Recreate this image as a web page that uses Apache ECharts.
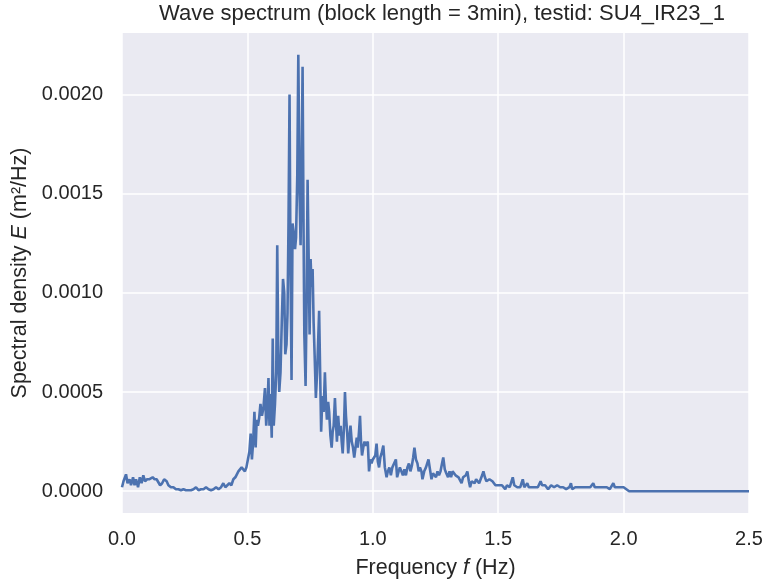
<!DOCTYPE html>
<html>
<head>
<meta charset="utf-8">
<script src="https://cdn.jsdelivr.net/npm/echarts@6/dist/echarts.min.js"></script>
<style>html,body{margin:0;padding:0;background:#fff}#c{width:767px;height:580px}</style>
</head>
<body>
<div id="c"></div>
<script>
const titleText = 'Wave spectrum (block length = 3min), testid: SU4_IR23_1';
const xTicks = [0, 0.5, 1.0, 1.5, 2.0, 2.5];
const yTicks = [0, 0.0005, 0.0010, 0.0015, 0.0020];
const freq = [
0.000,0.006,0.016,0.022,0.030,0.036,0.044,0.050,0.056,0.064,0.071,0.078,0.085,0.092,0.100,0.108,0.115,0.122,0.130,0.138,
0.145,0.152,0.160,0.168,0.178,0.185,0.195,0.205,0.215,0.225,0.235,0.245,0.255,0.265,0.275,0.285,0.295,0.305,0.315,0.325,
0.335,0.345,0.355,0.365,0.375,0.385,0.395,0.404,0.412,0.420,0.428,0.436,0.444,0.452,0.458,0.464,0.470,0.477,0.484,0.490,
0.496,0.502,0.508,0.513,0.518,0.523,0.528,0.533,0.537,0.542,0.547,0.552,0.558,0.564,0.570,0.575,0.580,0.584,0.588,0.592,
0.597,0.601,0.605,0.610,0.615,0.619,0.623,0.627,0.632,0.637,0.642,0.647,0.651,0.656,0.660,0.664,0.668,0.672,0.676,0.680,
0.685,0.690,0.694,0.699,0.703,0.708,0.712,0.716,0.720,0.724,0.727,0.732,0.736,0.740,0.744,0.748,0.752,0.756,0.760,0.764,
0.768,0.773,0.778,0.782,0.786,0.790,0.794,0.799,0.804,0.809,0.813,0.817,0.822,0.826,0.831,0.836,0.840,0.844,0.849,0.853,
0.857,0.862,0.867,0.872,0.876,0.880,0.885,0.889,0.893,0.898,0.902,0.906,0.911,0.916,0.921,0.926,0.931,0.936,0.940,0.945,
0.949,0.953,0.957,0.962,0.967,0.972,0.976,0.980,0.985,0.990,0.995,1.000,1.005,1.010,1.015,1.020,1.025,1.030,1.035,1.042,
1.048,1.055,1.060,1.066,1.072,1.078,1.084,1.092,1.097,1.103,1.108,1.114,1.120,1.126,1.132,1.138,1.144,1.150,1.156,1.161,
1.166,1.172,1.178,1.183,1.188,1.194,1.198,1.205,1.212,1.222,1.228,1.234,1.240,1.246,1.252,1.258,1.264,1.270,1.276,1.281,
1.287,1.293,1.300,1.306,1.312,1.318,1.324,1.330,1.336,1.342,1.348,1.354,1.360,1.366,1.371,1.377,1.383,1.388,1.394,1.400,
1.406,1.412,1.418,1.424,1.430,1.436,1.441,1.447,1.453,1.459,1.465,1.471,1.477,1.483,1.489,1.495,1.501,1.508,1.515,1.522,
1.528,1.535,1.540,1.546,1.552,1.558,1.564,1.570,1.576,1.582,1.588,1.593,1.598,1.604,1.610,1.616,1.622,1.628,1.634,1.640,
1.646,1.652,1.658,1.664,1.669,1.675,1.681,1.687,1.693,1.699,1.705,1.711,1.717,1.723,1.729,1.735,1.741,1.747,1.753,1.759,
1.765,1.771,1.777,1.784,1.790,1.795,1.801,1.807,1.813,1.819,1.825,1.831,1.837,1.843,1.849,1.855,1.861,1.867,1.873,1.879,
1.885,1.891,1.897,1.903,1.909,1.915,1.921,1.927,1.933,1.939,1.945,1.951,1.959,1.965,1.971,1.977,1.983,1.989,1.995,2.000,
2.005,2.011,2.016,2.022,2.100,2.200,2.300,2.400,2.500
];
const density = [
0.00002,0.00005,0.000085,0.00004,0.00006,0.00003,0.00007,0.00003,0.00006,0.00002,0.00007,0.00004,0.00008,0.00005,0.00006,0.00006,0.00007,0.00007,0.00006,0.00006,
0.00005,0.00003,0.00004,0.00006,0.00005,0.00003,0.00002,0.00002,0.00001,0.00001,0.000005,0.00001,0.000005,0.000005,0.000005,0.00001,0.00002,0.000005,0.00001,0.00001,
0.00002,0.00001,0.000005,0.00001,0.00002,0.00001,0.00002,0.00004,0.00002,0.00003,0.00004,0.00003,0.00006,0.00007,0.00006,0.0001,0.0001,0.00012,0.00012,0.0001,
0.00012,0.00016,0.0002,0.00029,0.00016,0.00025,0.0004,0.00022,0.00036,0.00033,0.00037,0.00044,0.00038,0.00042,0.00052,0.00033,0.00043,0.00057,0.00033,0.00049,
0.00027,0.00077,0.00033,0.00044,0.0006,0.00124,0.0007,0.0005,0.0006,0.00085,0.00107,0.001,0.00069,0.00074,0.0009,0.00136,0.0020,0.0011,0.00056,0.00135,
0.0013,0.00122,0.00128,0.0016,0.0022,0.0015,0.00124,0.0016,0.00214,0.0013,0.00079,0.00053,0.00095,0.00157,0.0012,0.00079,0.00117,0.00103,0.00112,0.00085,
0.00069,0.00047,0.0006,0.00075,0.00091,0.0006,0.0003,0.00048,0.0004,0.0006,0.00045,0.00036,0.00045,0.0004,0.00028,0.00022,0.0003,0.00033,0.00047,0.00035,
0.00025,0.00038,0.00028,0.00033,0.00025,0.00019,0.00032,0.0005,0.00038,0.00029,0.00019,0.00026,0.00033,0.00025,0.00022,0.00017,0.00022,0.00027,0.00022,0.0003,
0.00038,0.00025,0.00018,0.00022,0.00025,0.00023,0.00022,0.00025,0.0001,0.00016,0.00014,0.00016,0.00015,0.00018,0.00024,0.00015,0.00012,0.00017,0.00019,0.00023,
0.00012,0.00007,0.0001,0.00012,0.00008,0.00012,0.00013,0.00016,0.00007,0.0001,0.00012,0.0001,0.00008,0.00011,0.00008,0.00012,0.00014,0.0001,0.00013,0.00017,
0.00022,0.00016,0.00014,0.0001,0.00012,0.0001,0.00006,0.0001,0.00012,0.00016,0.00011,0.00006,0.00009,0.0001,0.00007,0.0001,0.00008,0.0001,0.00014,0.00017,
0.00011,0.00009,0.00007,0.0001,0.00007,0.0001,0.00011,0.00008,0.00009,0.00007,0.00006,0.00004,0.00007,0.00006,0.00008,0.0001,0.00005,0.00002,0.00005,0.00006,
0.00004,0.00006,0.00005,0.00004,0.00006,0.00008,0.0001,0.00007,0.00005,0.00004,0.00006,0.00007,0.00005,0.00004,0.00003,0.00004,0.00003,0.00002,0.00003,0.00002,
0.00001,0.00003,0.00004,0.00002,0.00002,0.00007,0.00003,0.00002,0.00002,0.00003,0.00002,0.00004,0.00006,0.00002,0.00003,0.00004,0.00002,0.00003,0.00002,0.00003,
0.00002,0.00003,0.00002,0.00003,0.00005,0.00003,0.00002,0.00003,0.00002,0.00001,0.00002,0.00003,0.00002,0.00002,0.00002,0.00003,0.00002,0.00002,0.00001,0.00002,
0.00002,0.00001,0.00002,0.00002,0.00004,0.00001,0.00001,0.00002,0.00001,0.00002,0.00001,0.00002,0.00001,0.00002,0.00001,0.00002,0.00001,0.00002,0.00002,0.00004,
0.00002,0.00001,0.00002,0.00001,0.00002,0.00001,0.00002,0.00001,0.00002,0.00002,0.00001,0.00002,0.00004,0.00002,0.00001,0.00002,0.00001,0.00002,0.00001,0.00002,
0.00003,0.00001,0.000005,0.0,0.0,0.0,0.0,0.0,0.0
];
const yMin = -0.00011, yMax = 0.00231;

const pts = freq.map((f, i) => [f, density[i]]);
const chart = echarts.init(document.getElementById('c'), null, {renderer: 'canvas'});
const FONT = '"Liberation Sans", Arial, sans-serif';
const TXT = '#262626';
chart.setOption({
  animation: false,
  backgroundColor: '#ffffff',
  title: {
    text: titleText, left: 154, top: -2,
    textStyle: {fontFamily: FONT, fontSize: 22, fontWeight: 'normal', color: TXT}
  },
  grid: {left: 122, right: 18, top: 33, bottom: 67, show: true, backgroundColor: '#EAEAF2', borderWidth: 0,
    outerBoundsMode: 'none', containLabel: false},
  xAxis: {
    type: 'value', min: 0, max: 2.5, interval: 0.5,
    axisLine: {show: false}, axisTick: {show: false},
    splitLine: {show: true, lineStyle: {color: '#ffffff', width: 1.5}},
    axisLabel: {margin: 16, fontFamily: FONT, fontSize: 20, color: TXT,
      formatter: v => v.toFixed(1)},
    name: '{n|Frequency }{i|f}{n| (Hz)}', nameLocation: 'middle', nameGap: 44,
    nameTextStyle: {rich: {
      n: {fontFamily: FONT, fontSize: 21.5, color: TXT},
      i: {fontFamily: FONT, fontSize: 21.5, color: TXT, fontStyle: 'italic'}
    }}
  },
  yAxis: {
    type: 'value', min: yMin, max: yMax,
    axisLine: {show: false},
    axisTick: {show: false, customValues: yTicks},
    splitLine: {show: true, lineStyle: {color: '#ffffff', width: 1.5}},
    axisLabel: {customValues: yTicks, margin: 19, fontFamily: FONT, fontSize: 20, color: TXT,
      formatter: v => v.toFixed(4)},
    name: '{n|Spectral density }{i|E}{n| (m²/Hz)}', nameLocation: 'middle', nameGap: 91, nameRotate: 90,
    nameTextStyle: {rich: {
      n: {fontFamily: FONT, fontSize: 21.5, color: TXT},
      i: {fontFamily: FONT, fontSize: 21.5, color: TXT, fontStyle: 'italic'}
    }}
  },
  series: [{
    type: 'line', data: pts, showSymbol: false, symbol: 'none',
    lineStyle: {color: '#4C72B0', width: 2.6}, clip: true
  }]
});
</script>
</body>
</html>
